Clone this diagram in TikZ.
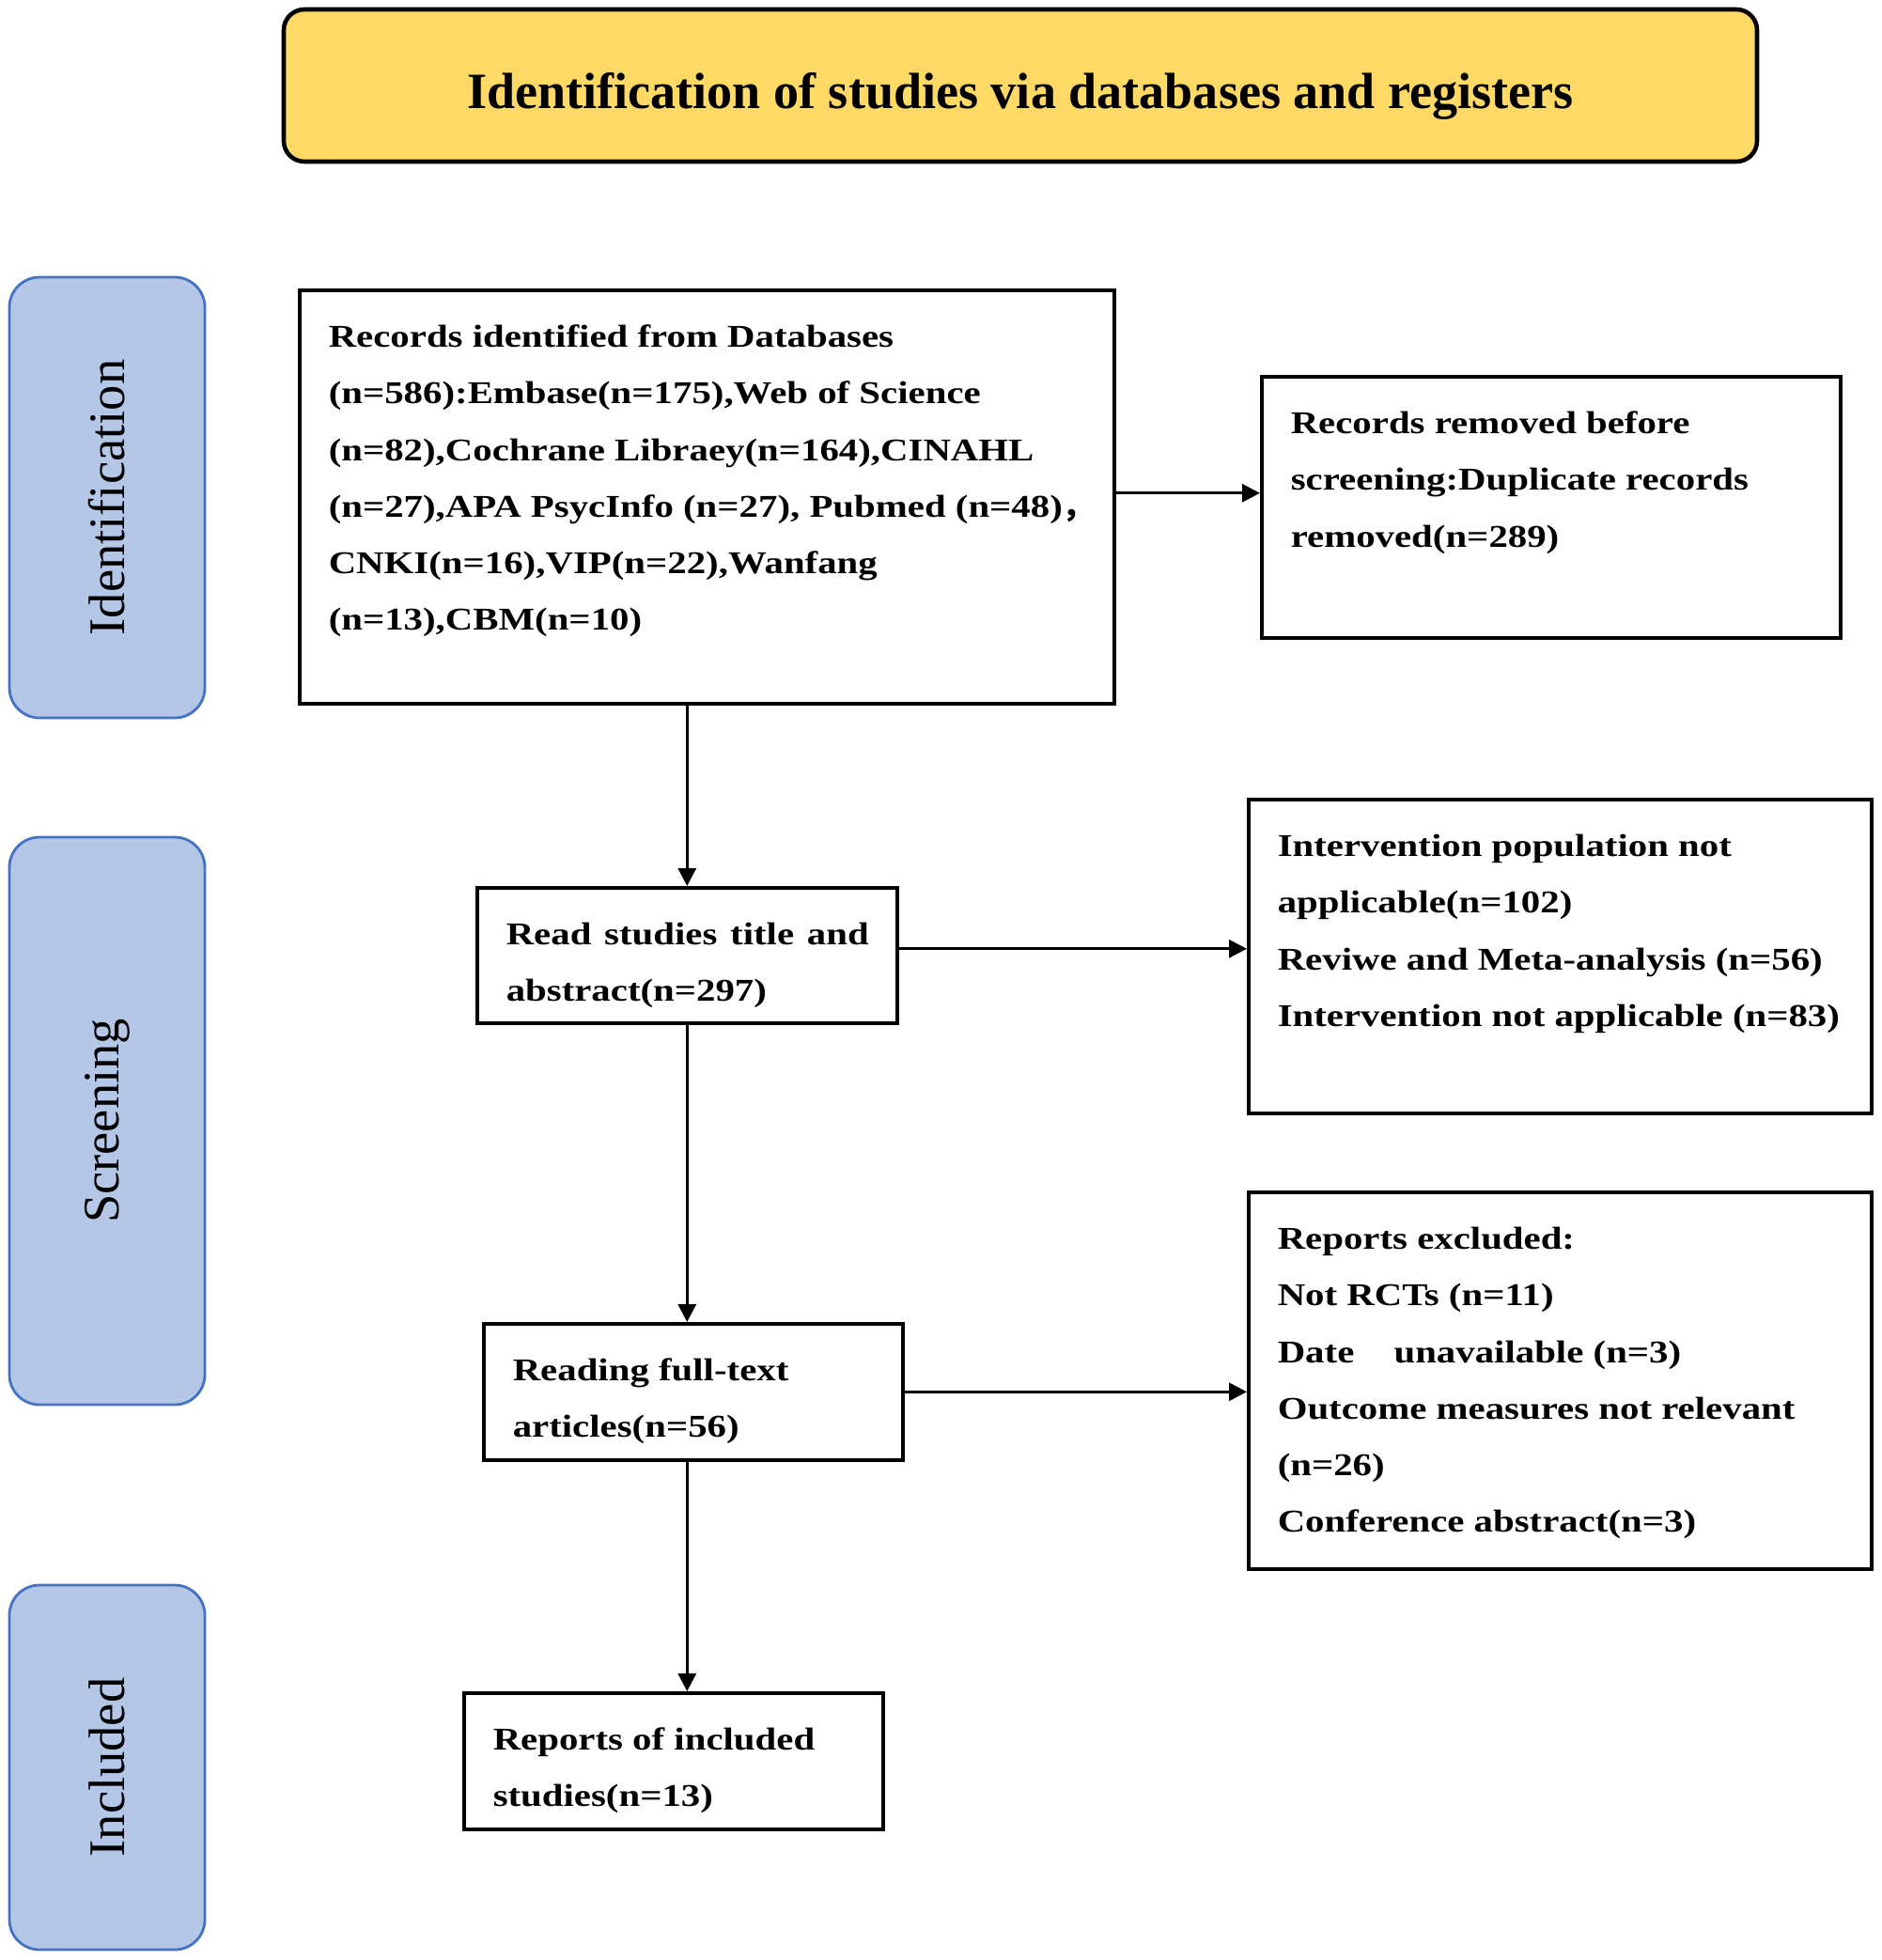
\documentclass[tikz,border=0pt]{standalone}
\usepackage{fontspec}
\usepackage{graphicx}
\usepackage{tikz}
\usetikzlibrary{arrows.meta,positioning,calc}
\setmainfont{Liberation Serif}
\newfontfamily\widefont{Liberation Serif}[FakeStretch=1.21]
\newfontfamily\cjkfont{Noto Sans CJK SC}
\definecolor{prgold}{HTML}{FFD966}
\definecolor{prfill}{HTML}{B4C7E7}
\definecolor{prblue}{HTML}{4472C4}
\newcommand{\flowfont}{\widefont\fontsize{9.6}{17.1}\selectfont\bfseries}
\newcommand{\boxtext}[3]{\parbox[t][\dimexpr#2cm-0.38cm][t]{\dimexpr#1cm-0.62cm}{\begin{tabular}[t]{@{}l@{}}#3\end{tabular}}}
\tikzset{
  head/.style={draw=black, fill=prgold, line width=1.3pt, rounded corners=0.22cm, minimum width=15.68cm, minimum height=1.62cm, font=\fontsize{15.4}{18}\selectfont\bfseries},
  stage/.style={draw=prblue, fill=prfill, line width=0.8pt, rounded corners=0.32cm, minimum width=2.08cm, inner sep=0, font=\fontsize{15.5}{18}\selectfont},
  flow/.style={draw=black, line width=1pt, inner xsep=0.31cm, inner ysep=0.19cm, anchor=north west, font=\flowfont},
  arr/.style={-{Triangle[length=0.19cm,width=0.19cm]}, line width=0.9pt, color=black},
}

\begin{document}
\begin{tikzpicture}
  \useasboundingbox (0,0) rectangle (20.02,-20.86);
  \node[head] (title) at (10.86,-0.91) {\raisebox{-0.24cm}[0pt][0pt]{Identification of studies via databases and registers}};
  % phase bars
  \node[stage, minimum height=4.69cm] (ident) at (1.14,-5.295) {\rotatebox{90}{Identification}};
  \node[stage, minimum height=6.04cm] (screen) at (1.14,-11.93) {\rotatebox{90}{Screening}};
  \node[stage, minimum height=3.88cm] (incd) at (1.14,-18.81) {\rotatebox{90}{Included}};
  % main column
  \node[flow] (recs) at (3.17,-3.07) {\boxtext{8.67}{4.40}{Records identified from Databases\\
    (n=586):Embase(n=175),Web of Science\\
    (n=82),Cochrane Libraey(n=164),CINAHL\\
    (n=27),APA PsycInfo (n=27), Pubmed (n=48){\cjkfont ，}\\
    CNKI(n=16),VIP(n=22),Wanfang\\
    (n=13),CBM(n=10)}};
  \node[flow] (read) at (5.06,-9.43) {\boxtext{4.47}{1.44}{\makebox[3.86cm][s]{Read studies title and}\\abstract(n=297)}};
  \node[flow] (fullt) at (5.13,-14.07) {\boxtext{4.46}{1.45}{Reading full-text\\articles(n=56)}};
  \node[flow] (incl) at (4.92,-18.00) {\boxtext{4.46}{1.45}{Reports of included\\studies(n=13)}};
  % exclusions
  \node[flow] (dups) at (13.41,-3.99) {\boxtext{6.16}{2.78}{Records removed before\\screening:Duplicate records\\removed(n=289)}};
  \node[flow] (excl1) at (13.27,-8.49) {\boxtext{6.63}{3.34}{Intervention population not\\applicable(n=102)\\Reviwe and Meta-analysis (n=56)\\Intervention not applicable (n=83)}};
  \node[flow] (excl2) at (13.27,-12.67) {\boxtext{6.63}{4.01}{Reports excluded:\\Not RCTs (n=11)\\Date\hspace{0.32cm} unavailable (n=3)\\Outcome measures not relevant\\(n=26)\\Conference abstract(n=3)}};
  \draw[arr] (recs.south -| read.north) -- (read.north);
  \draw[arr] (read.south) -- (fullt.north -| read.south);
  \draw[arr] (fullt.south -| read.south) -- (incl.north -| read.south);
  \draw[arr] ([yshift=0.04cm]recs.east) -- ([yshift=0.04cm]recs.east -| dups.west);
  \draw[arr] ([yshift=0.07cm]read.east) -- ([yshift=0.07cm]read.east -| excl1.west);
  \draw[arr] (fullt.east) -- (fullt.east -| excl2.west);
\end{tikzpicture}
\end{document}
